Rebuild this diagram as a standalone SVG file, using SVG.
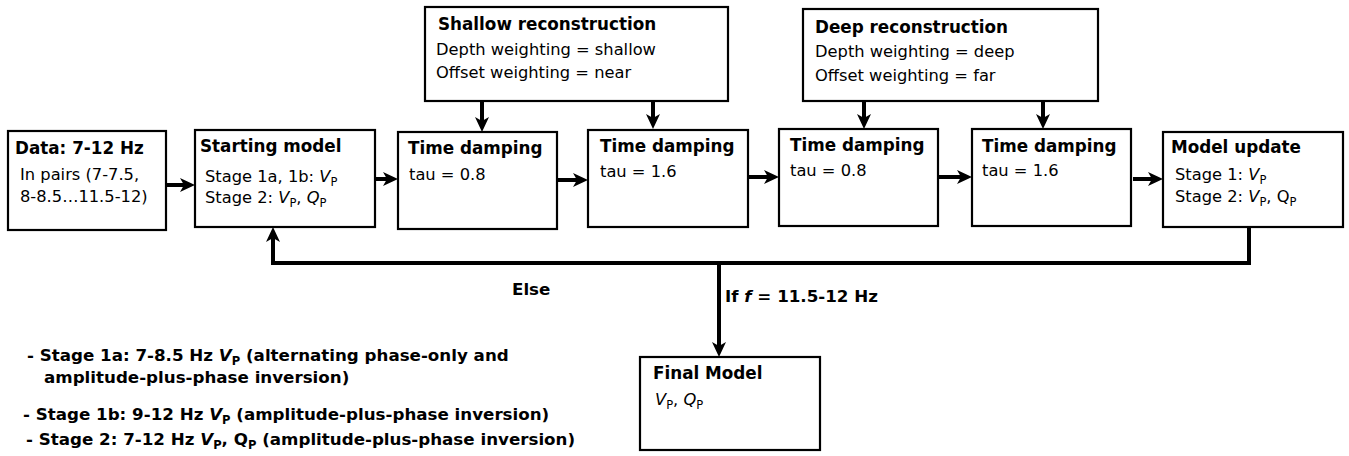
<svg xmlns="http://www.w3.org/2000/svg" width="1349" height="456" viewBox="0 0 1349 456">
<style>
text{font-family:"DejaVu Sans","Liberation Sans",sans-serif;fill:#000}
.t{font-size:16.8px;font-weight:bold}
.b{font-size:16.3px}
.n{font-size:16.7px;font-weight:bold}
.i{font-style:italic}
.s{font-size:11.5px}
rect{fill:#fff;stroke:#000;stroke-width:2.2}
.c{fill:none;stroke:#000;stroke-width:4}
</style>
<defs>
<marker id="ah" markerUnits="userSpaceOnUse" markerWidth="16" markerHeight="16" viewBox="0 0 16 16" refX="4" refY="8" orient="auto">
<path d="M0,1 L15,8 L0,15 L4,8 z" fill="#000"/>
</marker>
</defs>
<g id="connectors">
<line class="c" x1="166" y1="185" x2="184" y2="185" marker-end="url(#ah)"/>
<line class="c" x1="375" y1="179" x2="387" y2="179" marker-end="url(#ah)"/>
<line class="c" x1="557" y1="180" x2="577" y2="180" marker-end="url(#ah)"/>
<line class="c" x1="748" y1="177" x2="768" y2="177" marker-end="url(#ah)"/>
<line class="c" x1="938" y1="177" x2="961" y2="177" marker-end="url(#ah)"/>
<line class="c" x1="1133" y1="179" x2="1152" y2="179" marker-end="url(#ah)"/>
<line class="c" x1="482" y1="101" x2="482" y2="121" marker-end="url(#ah)"/>
<line class="c" x1="653" y1="101" x2="653" y2="118" marker-end="url(#ah)"/>
<line class="c" x1="864" y1="101" x2="864" y2="118" marker-end="url(#ah)"/>
<line class="c" x1="1043" y1="101" x2="1043" y2="118" marker-end="url(#ah)"/>
<polyline class="c" points="1249,227 1249,263 273,263 273,238" marker-end="url(#ah)"/>
<line class="c" x1="719" y1="263" x2="719" y2="346" marker-end="url(#ah)"/>
<text class="n" x="512" y="295">Else</text>
<text class="n" x="725" y="302">If <tspan class="i">f</tspan> = 11.5-12 Hz</text>
</g>
<g id="data">
<rect x="8" y="131" width="158" height="99"/>
<text class="t" x="15" y="154">Data: 7-12 Hz</text>
<text class="b" x="20" y="180">In pairs (7-7.5,</text>
<text class="b" x="20" y="202">8-8.5…11.5-12)</text>
</g>
<g id="starting-model">
<rect x="195" y="130" width="180" height="97"/>
<text class="t" x="200" y="152">Starting model</text>
<text class="b" x="205" y="182">Stage 1a, 1b: <tspan class="i">V</tspan><tspan class="s" dy="4">P</tspan></text>
<text class="b" x="205" y="203">Stage 2: <tspan class="i">V</tspan><tspan class="s" dy="4">P</tspan><tspan dy="-4">, </tspan><tspan class="i">Q</tspan><tspan class="s" dy="4">P</tspan></text>
</g>
<g id="shallow">
<rect x="425" y="7" width="303" height="94"/>
<text class="t" x="438" y="30">Shallow reconstruction</text>
<text class="b" x="436" y="55">Depth weighting = shallow</text>
<text class="b" x="436" y="78">Offset weighting = near</text>
</g>
<g id="deep">
<rect x="803" y="9" width="295" height="92"/>
<text class="t" x="815" y="33">Deep reconstruction</text>
<text class="b" x="815" y="57">Depth weighting = deep</text>
<text class="b" x="815" y="81">Offset weighting = far</text>
</g>
<g id="td1">
<rect x="398" y="132" width="159" height="97"/>
<text class="t" x="408" y="154">Time damping</text>
<text class="b" x="409" y="180">tau = 0.8</text>
</g>
<g id="td2">
<rect x="588" y="130" width="160" height="97"/>
<text class="t" x="600" y="152">Time damping</text>
<text class="b" x="600" y="177">tau = 1.6</text>
</g>
<g id="td3">
<rect x="779" y="129" width="159" height="97"/>
<text class="t" x="790" y="151">Time damping</text>
<text class="b" x="790" y="176">tau = 0.8</text>
</g>
<g id="td4">
<rect x="972" y="129" width="159" height="97"/>
<text class="t" x="982" y="152">Time damping</text>
<text class="b" x="982" y="176">tau = 1.6</text>
</g>
<g id="model-update">
<rect x="1163" y="132" width="180" height="95"/>
<text class="t" x="1171" y="153">Model update</text>
<text class="b" x="1175" y="180">Stage 1: <tspan class="i">V</tspan><tspan class="s" dy="4">P</tspan></text>
<text class="b" x="1175" y="202">Stage 2: <tspan class="i">V</tspan><tspan class="s" dy="4">P</tspan><tspan dy="-4">, Q</tspan><tspan class="s" dy="4">P</tspan></text>
</g>
<g id="final-model">
<rect x="640" y="357" width="180" height="93"/>
<text class="t" x="653" y="379">Final Model</text>
<text class="b" x="655" y="405"><tspan class="i">V</tspan><tspan class="s" dy="4">P</tspan><tspan dy="-4">, </tspan><tspan class="i">Q</tspan><tspan class="s" dy="4">P</tspan></text>
</g>
<g id="notes">
<text class="n" x="27" y="361">- Stage 1a: 7-8.5 Hz <tspan class="i">V</tspan><tspan class="s" dy="4">P</tspan><tspan dy="-4"> (alternating phase-only and</tspan></text>
<text class="n" x="44" y="383">amplitude-plus-phase inversion)</text>
<text class="n" x="23" y="420">- Stage 1b: 9-12 Hz <tspan class="i">V</tspan><tspan class="s" dy="4">P</tspan><tspan dy="-4"> (amplitude-plus-phase inversion)</tspan></text>
<text class="n" x="26" y="445">- Stage 2: 7-12 Hz <tspan class="i">V</tspan><tspan class="s" dy="4">P</tspan><tspan dy="-4">, Q</tspan><tspan class="s" dy="4">P</tspan><tspan dy="-4"> (amplitude-plus-phase inversion)</tspan></text>
</g>
</svg>
